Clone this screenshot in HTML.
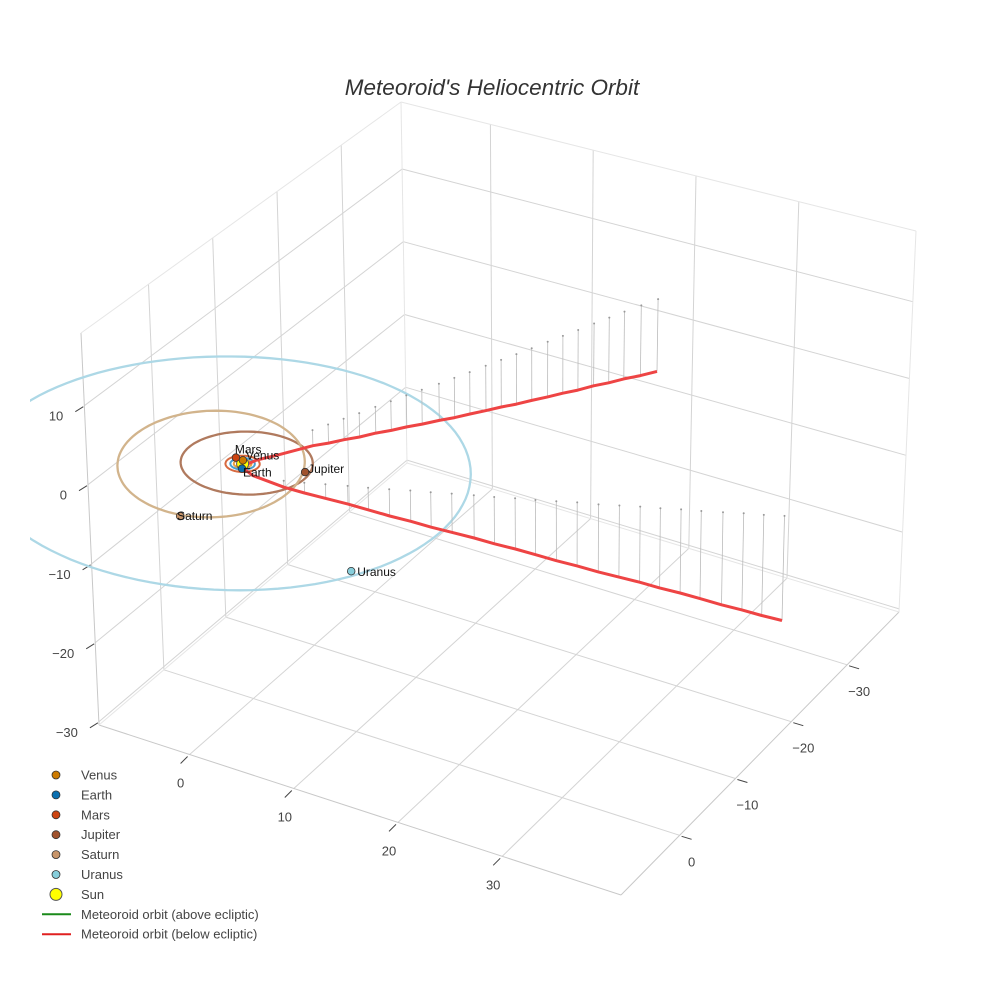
<!DOCTYPE html>
<html><head><meta charset="utf-8"><style>
html,body{margin:0;padding:0;background:#fff;}
svg{display:block;font-family:"Liberation Sans",Arial,sans-serif;}
</style></head><body>
<svg id="chart" width="984" height="984" viewBox="0 0 984 984" xmlns="http://www.w3.org/2000/svg">
<rect width="984" height="984" fill="#fff"/>
<defs><clipPath id="sceneClip"><rect x="30" y="0" width="954" height="984"/></clipPath></defs>
<text x="492" y="95" text-anchor="middle" font-size="22.5" font-style="italic" fill="#333">Meteoroid's Heliocentric Orbit</text>
<g id="grid"></g>
<g id="ticks"></g>
<g id="scene" clip-path="url(#sceneClip)"></g>
<g id="legend"></g>
</svg>
<script>
// ---- data ----
const xTicks = [0, 10, 20, 30];
const yTicks = [0, -10, -20, -30];
const zTicks = [10, 0, -10, -20, -30];
const planetNames = ["Venus", "Earth", "Mars", "Jupiter", "Saturn", "Uranus"];
const planetX = [-0.22, 0.45, -0.94, 5.14, 0.29, 16.7];
const planetY = [0.13, 1.4, 0.04, -0.8, 11.07, 11.65];
const planetZ = [0, 0, 0, 0, 0, 0];
const orbitCX = [0.07, 0.07, 0.07, 0.29, -2.1, -0.29];
const orbitCY = [0.67, 0.67, 0.67, 0.36, 2.0, 2.49];
// orbit semi-axis vectors (data units): axis A = (ax, ay), axis B = (bx, by)
const orbitAX = [0.72, 1.0, 1.4, 5.4, 6.52, 20.0];
const orbitAY = [0, 0, 0, 0, -3.96, 0];
const orbitBX = [0, 0, 0, 0, 4.35, 0];
const orbitBY = [0.72, 1.0, 1.4, 5.4, 8.07, 20.0];
const sunPos = [0.07, 0.67, 0];
const upperX = [2.0,2.6,3.2,3.8,4.4,5.0,5.6,6.2,6.9,7.5,8.1,8.7,9.3,9.9,10.5,11.1,11.7,12.3,12.9,13.5,14.1,14.8,15.5];
const upperY = [-7.3,-8.8,-10.3,-11.8,-13.4,-14.9,-16.4,-17.9,-19.5,-21.0,-22.5,-24.1,-25.6,-27.1,-28.6,-30.2,-31.7,-33.2,-34.8,-36.3,-37.8,-39.4,-41.0];
const upperZ = [-2.0,-2.4,-2.7,-3.1,-3.4,-3.8,-4.1,-4.5,-4.8,-5.2,-5.5,-5.9,-6.2,-6.6,-6.9,-7.3,-7.6,-8.0,-8.3,-8.7,-9.0,-9.4,-9.7];
const hookX = [0.9, 0.3, 0.1, 0.4, 1.5];
const hookY = [-3.5, -1.2, 0.6, 1.0, 1.5];
const hookZ = [-1.2, -0.6, -0.3, -0.3, -0.4];
const lowerX = [4.4,6.0,7.6,9.3,10.9,12.5,14.1,15.7,17.3,19.0,20.6,22.2,23.8,25.4,27.0,28.7,30.3,31.9,33.5,35.1,36.7,38.4,40.0,41.6,43.2];
const lowerY = [1.4,0.8,0.1,-0.6,-1.2,-1.9,-2.6,-3.2,-3.9,-4.6,-5.2,-5.9,-6.5,-7.2,-7.9,-8.5,-9.2,-9.9,-10.5,-11.2,-11.8,-12.5,-13.2,-13.8,-14.5];
const lowerZ = [-0.8,-1.3,-1.8,-2.3,-2.8,-3.4,-3.9,-4.4,-4.9,-5.4,-5.9,-6.4,-6.9,-7.5,-8.0,-8.5,-9.0,-9.5,-10.0,-10.5,-11.0,-11.6,-12.1,-12.6,-13.1];

// ---- projection (trilinear between screen box corners) ----
const XR=[-8.7,41.4], YR=[-39.3,10.5], ZR=[-30.4,19.2];
const F00=[407,463],F10=[899,612],F01=[99,725],F11=[621,895];
const T00=[401,102],T10=[916,231],T01=[81,333],T11=[621,485];
function lerp(a,b,t){return [a[0]+(b[0]-a[0])*t,a[1]+(b[1]-a[1])*t];}
function P(x,y,z){
  const u=(x-XR[0])/(XR[1]-XR[0]), v=(y-YR[0])/(YR[1]-YR[0]), w=(z-ZR[0])/(ZR[1]-ZR[0]);
  const f=lerp(lerp(F00,F01,v),lerp(F10,F11,v),u);
  const t=lerp(lerp(T00,T01,v),lerp(T10,T11,v),u);
  return lerp(f,t,w);
}
const NS="http://www.w3.org/2000/svg";
function mk(tag,attrs,parent){const e=document.createElementNS(NS,tag);for(const k in attrs)e.setAttribute(k,attrs[k]);parent.appendChild(e);return e;}
function line(a,b,stroke,sw,parent){return mk("line",{x1:a[0].toFixed(1),y1:a[1].toFixed(1),x2:b[0].toFixed(1),y2:b[1].toFixed(1),stroke:stroke,"stroke-width":sw},parent);}
const grid=document.getElementById("grid"), ticks=document.getElementById("ticks"), scene=document.getElementById("scene"), legend=document.getElementById("legend");
const GC="#d4d4d4";
xTicks.forEach(x=>{const l=line(P(x,YR[0],ZR[0]),P(x,YR[1],ZR[0]),GC,1,grid);

});
yTicks.forEach(y=>{const l=line(P(XR[0],y,ZR[0]),P(XR[1],y,ZR[0]),GC,1,grid);

});
yTicks.forEach(y=>{const l=line(P(XR[0],y,ZR[0]),P(XR[0],y,ZR[1]),GC,1,grid);

});
zTicks.forEach(z=>{const l=line(P(XR[0],YR[0],z),P(XR[0],YR[1],z),GC,1,grid);

});
xTicks.forEach(x=>{const l=line(P(x,YR[0],ZR[0]),P(x,YR[0],ZR[1]),GC,1,grid);

});
zTicks.forEach(z=>{const l=line(P(XR[0],YR[0],z),P(XR[1],YR[0],z),GC,1,grid);

});
[[[0,1,0],[1,1,0]],[[1,1,0],[1,0,0]],[[0,1,0],[0,1,1]],[[0,0,0],[0,0,1]],[[1,0,0],[1,0,1]],[[0,1,1],[0,0,1]],[[0,0,1],[1,0,1]],[[0,0,0],[1,0,0]],[[0,0,0],[0,1,0]]].forEach((e,i)=>{
  const a=P(XR[e[0][0]],YR[e[0][1]],ZR[e[0][2]]), b=P(XR[e[1][0]],YR[e[1][1]],ZR[e[1][2]]);
  const l=line(a,b,i<3?"#c8c8c8":"#e6e6e6",1,grid);
  
  
});
function lab(txt,p,parent){const t=mk("text",{x:p[0].toFixed(1),y:p[1].toFixed(1),"text-anchor":"middle","font-size":"13",fill:"#444"},parent);t.textContent=txt;return t;}
function fmt(v){return v<0?"\u2212"+Math.abs(v):String(v);}
xTicks.forEach(x=>{const p=P(x,YR[1],ZR[0]);const l=line([p[0]-2,p[1]+2],[p[0]-9,p[1]+9],"#444",1,ticks);


const t=lab(fmt(x),[p[0]-9,p[1]+33],ticks);

});
yTicks.forEach(y=>{const p=P(XR[1],y,ZR[0]);const l=line([p[0]+2,p[1]+1],[p[0]+12,p[1]+4],"#444",1,ticks);


const t=lab(fmt(y),[p[0]+12,p[1]+31],ticks);

});
zTicks.forEach(z=>{const p=P(XR[0],YR[1],z);const l=line([p[0]-1,p[1]+1],[p[0]-9,p[1]+6],"#444",1,ticks);


const t=mk("text",{x:(p[0]-21).toFixed(1),y:(p[1]+15).toFixed(1),"text-anchor":"end","font-size":"13",fill:"#444"},ticks);t.textContent=fmt(z);

});
const orbitColors=["#e8a040","#4a9fd0","#d86a40","#b07a5e","#d2b48c","#add8e6"];
planetNames.forEach((n,i)=>{let d="";for(let k=0;k<=120;k++){const a=k/120*2*Math.PI;const c=Math.cos(a),s=Math.sin(a);
const p=P(orbitCX[i]+orbitAX[i]*c+orbitBX[i]*s,orbitCY[i]+orbitAY[i]*c+orbitBY[i]*s,0);d+=(k?"L":"M")+p[0].toFixed(1)+","+p[1].toFixed(1);}
const o=mk("path",{d:d,fill:"none",stroke:orbitColors[i],"stroke-width":i<3?2:2.3},scene);

});
function drops(xs,ys,zs,name){xs.forEach((x,i)=>{const a=P(x,ys[i],zs[i]),b=P(x,ys[i],0);
const l=line(a,b,"#bbb",0.8,scene);


const c=mk("circle",{cx:b[0].toFixed(1),cy:b[1].toFixed(1),r:1,fill:"#999"},scene);

});}
drops(upperX,upperY,upperZ,"upper");
drops(lowerX,lowerY,lowerZ,"lower");
function pathOf(xs,ys,zs){return xs.map((x,i)=>{const p=P(x,ys[i],zs[i]);return (i?"L":"M")+p[0].toFixed(1)+","+p[1].toFixed(1);}).join("");}
const ux=upperX.slice().reverse().concat(hookX).concat(lowerX), uy=upperY.slice().reverse().concat(hookY).concat(lowerY), uz=upperZ.slice().reverse().concat(hookZ).concat(lowerZ);
const mp=mk("path",{d:pathOf(ux,uy,uz),fill:"none",stroke:"#ee4444","stroke-width":3,"stroke-linejoin":"round"},scene);


const pColors=["#cc7a00","#0a6fb0","#cc4411","#a0522d","#c8956a","#87cedb"];
const sp=P(sunPos[0],sunPos[1],sunPos[2]);
const sun=mk("circle",{cx:sp[0].toFixed(1),cy:sp[1].toFixed(1),r:6,fill:"#ffff00",stroke:"#555","stroke-width":1},scene);


const labOff=[[3,-1],[1,8],[-1,-4],[3,1],[-3,4],[6,5]];
planetNames.forEach((n,i)=>{const p=P(planetX[i],planetY[i],planetZ[i]);
const c=mk("circle",{cx:p[0].toFixed(1),cy:p[1].toFixed(1),r:3.8,fill:pColors[i],stroke:"#333","stroke-width":0.8},scene);


const t=mk("text",{x:(p[0]+labOff[i][0]).toFixed(1),y:(p[1]+labOff[i][1]).toFixed(1),"font-size":"12",fill:"#111"},scene);t.textContent=n;

});
const legNames=planetNames.concat(["Sun","Meteoroid orbit (above ecliptic)","Meteoroid orbit (below ecliptic)"]);
legNames.forEach((n,i)=>{const y=775+i*19.9;let m;
if(i<6){m=mk("circle",{cx:56,cy:y,r:4,fill:pColors[i],stroke:"#333","stroke-width":0.8},legend);}
else if(i==6){m=mk("circle",{cx:56,cy:y,r:6,fill:"#ffff00",stroke:"#555","stroke-width":1},legend);}
else{m=mk("line",{x1:42,y1:y,x2:71,y2:y,stroke:i==7?"#1a8a1a":"#e02020","stroke-width":2},legend);}


const t=mk("text",{x:81,y:y+4.5,"font-size":"13",fill:"#444"},legend);t.textContent=n;

});
</script>
</body></html>
